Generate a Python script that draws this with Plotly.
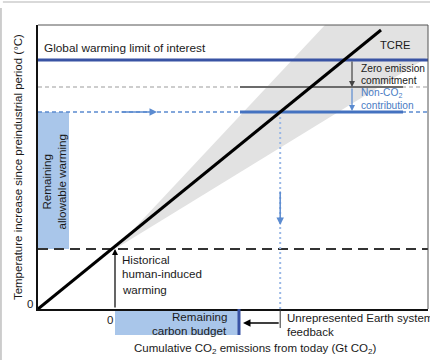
import plotly.graph_objects as go

# ---- schematic values (x: cumulative CO2 emissions from today, y: warming) ----
X_RANGE = [-770, 3130]
Y_RANGE = [0, 2.84]

tcre_emissions = [-770, 2660]      # central TCRE line, preindustrial -> end
tcre_warming = [0.0, 2.79]

hist_emissions = 0                  # today
hist_warming = 0.60                 # historical human-induced warming
warming_limit = 2.49                # global warming limit of interest
zec_level = 2.22                    # limit minus zero emission commitment
nonco2_level = 1.97                 # limit minus ZEC and non-CO2 contribution
budget_after_feedback = 1240        # remaining carbon budget after feedback

# TCRE uncertainty cone, starting from today's warming
cone_emissions = [0, 2100, 3130, 3130, 0]
cone_warming = [0.60, 2.84, 2.84, 2.52, 0.60]

# extent of the solid reference levels at the right
level_segment = [1250, 2880]
arrow_x_right = 2370

# emissions where the TCRE line reaches the remaining-warming level
slope = (tcre_warming[1] - tcre_warming[0]) / (tcre_emissions[1] - tcre_emissions[0])
budget_tcre = tcre_emissions[0] + (nonco2_level - tcre_warming[0]) / slope

FONT = "Liberation Sans, Arial, sans-serif"
DARK_BLUE = "#3953a4"
MID_BLUE = "#4472c0"
DASH_BLUE = "#5b8bd0"
LIGHT_BLUE = "#a9c6ea"
DOT_BLUE = "#9ab8e6"

fig = go.Figure()

# uncertainty cone
fig.add_trace(go.Scatter(x=cone_emissions, y=cone_warming, fill="toself",
                         fillcolor="#e2e2e2", line=dict(width=0), mode="lines",
                         hoverinfo="skip"))

# remaining allowable warming band
fig.add_trace(go.Scatter(x=[X_RANGE[0], -460, -460, X_RANGE[0], X_RANGE[0]],
                         y=[hist_warming, hist_warming, nonco2_level, nonco2_level, hist_warming],
                         fill="toself", fillcolor=LIGHT_BLUE, line=dict(width=0),
                         mode="lines", hoverinfo="skip"))

def hline(y, x0, x1, color, width, dash="solid"):
    fig.add_trace(go.Scatter(x=[x0, x1], y=[y, y], mode="lines",
                             line=dict(color=color, width=width, dash=dash),
                             hoverinfo="skip"))

# dashed reference levels across the whole plot
hline(zec_level, X_RANGE[0], X_RANGE[1], "#bdbdbd", 1.5, "4px,3px")
hline(nonco2_level, X_RANGE[0], X_RANGE[1], DASH_BLUE, 1.5, "4px,3px")
hline(hist_warming, X_RANGE[0], X_RANGE[1], "#333333", 2, "10px,6px")

# solid levels at the right
hline(zec_level, level_segment[0], level_segment[1], "#6b6b6b", 2)
hline(nonco2_level, level_segment[0], level_segment[1], MID_BLUE, 3)

# vertical dotted line from the TCRE crossing down to the axis
fig.add_trace(go.Scatter(x=[budget_tcre, budget_tcre], y=[0, nonco2_level], mode="lines",
                         line=dict(color=DOT_BLUE, width=2, dash="2px,3px"),
                         hoverinfo="skip"))

# global warming limit
hline(warming_limit, X_RANGE[0], X_RANGE[1], DARK_BLUE, 3)

# TCRE line
fig.add_trace(go.Scatter(x=tcre_emissions, y=tcre_warming, mode="lines",
                         line=dict(color="black", width=3), hoverinfo="skip"))

annotations = []

def arrow(x, y, ax, ay, color, width=1.2, xref="x", yref="y", ayref="y", size=1.0):
    annotations.append(dict(x=x, y=y, ax=ax, ay=ay, xref=xref, yref=yref,
                            axref="x", ayref=ayref, text="", showarrow=True,
                            arrowhead=2, arrowsize=size, arrowwidth=width,
                            arrowcolor=color, standoff=0, startstandoff=0))

arrow(hist_emissions, hist_warming, hist_emissions, 0, "black", 1.2)
arrow(420, nonco2_level, 50, nonco2_level, DASH_BLUE, 1.5)
arrow(budget_tcre, 0.84, budget_tcre, 1.19, DASH_BLUE, 1.5)
arrow(arrow_x_right, zec_level, arrow_x_right, warming_limit, "#444444", 1.2)
arrow(arrow_x_right, nonco2_level + 0.01, arrow_x_right, zec_level, DASH_BLUE, 1.2)
# unrepresented Earth system feedback arrow below the axis
annotations.append(dict(x=budget_after_feedback + 40, y=-0.049, ax=budget_tcre, ay=0,
                        xref="x", yref="paper", axref="x", ayref="pixel",
                        text="", showarrow=True, arrowhead=2, arrowsize=1,
                        arrowwidth=1.5, arrowcolor="black", standoff=0))

def label(text, x, y, size=11.5, color="#1a1a1a", xanchor="left", xref="x", yref="y",
          angle=0):
    annotations.append(dict(text=text, x=x, y=y, xref=xref, yref=yref,
                            xanchor=xanchor, yanchor="middle", showarrow=False,
                            textangle=angle,
                            font=dict(family=FONT, size=size, color=color)))

label("Global warming limit of interest", -730, 2.61, 11.8)
label("TCRE", 2630, 2.64, 11.2)
label("Zero emission", 2440, 2.41, 10.2)
label("commitment", 2440, 2.29, 10.2)
label("Non-CO<sub>2</sub>", 2440, 2.16, 10.2, "#4a7cc4")
label("contribution", 2440, 2.04, 10.2, "#4a7cc4")
label("Historical", 50, 0.50, 11.6)
label("human-induced", 50, 0.36, 11.6)
label("warming", 50, 0.20, 11.6)
label("Remaining<br>allowable warming", -615, 1.27, 11.6, angle=-90, xanchor="center")

# below the horizontal axis
label("Remaining", 1140, -0.028, 11.6, xanchor="right", yref="paper")
label("carbon budget", 1140, -0.074, 11.6, xanchor="right", yref="paper")
label("Unrepresented Earth system", 1700, -0.032, 11.5, yref="paper")
label("feedback", 1700, -0.081, 11.5, yref="paper")
label("0", -50, -0.039, 11.5, xanchor="center", yref="paper")
label("0", -0.02, 0.05, 11.5, xanchor="center", xref="paper")

# axis titles
label("Cumulative CO<sub>2</sub> emissions from today (Gt CO<sub>2</sub>)", 0.556, -0.141,
      11.5, xanchor="center", xref="paper", yref="paper")
label("Temperature increase since preindustrial period (°C)", -0.051, 0.5, 11.5,
      xanchor="center", xref="paper", yref="paper", angle=-90)

shapes = [
    # remaining carbon budget box below the axis
    dict(type="rect", xref="x", yref="paper", x0=hist_emissions, x1=budget_after_feedback,
         y0=-0.0915, y1=0, fillcolor=LIGHT_BLUE, line=dict(width=0), layer="below"),
    dict(type="line", xref="x", yref="paper", x0=budget_after_feedback,
         x1=budget_after_feedback, y0=-0.0915, y1=0, line=dict(color=DARK_BLUE, width=3)),
    dict(type="line", xref="x", yref="paper", x0=budget_tcre, x1=budget_tcre,
         y0=-0.067, y1=0, line=dict(color="#333333", width=1)),
    # top and right frame
    dict(type="line", xref="paper", yref="paper", x0=0, x1=1, y0=1, y1=1,
         line=dict(color="#555555", width=1)),
    dict(type="line", xref="paper", yref="paper", x0=1, x1=1, y0=0, y1=1,
         line=dict(color="#555555", width=1)),
    # outer panel border
    dict(type="line", xref="paper", yref="paper", x0=-0.09, x1=1.01, y0=1.081, y1=1.081,
         line=dict(color="#cccccc", width=1.5)),
    dict(type="rect", xref="paper", yref="paper", x0=-0.0975, x1=-0.0925, y0=-0.19, y1=1.06,
         fillcolor="#cccccc", line=dict(width=0)),
]

fig.update_layout(
    width=430, height=360,
    margin=dict(l=38, r=2, t=25, b=51),
    paper_bgcolor="white", plot_bgcolor="white",
    showlegend=False,
    annotations=annotations,
    shapes=shapes,
    xaxis=dict(range=X_RANGE, showgrid=False, zeroline=False, showticklabels=False,
               ticks="", showline=True, linecolor="#111111", linewidth=1.5, fixedrange=True),
    yaxis=dict(range=Y_RANGE, showgrid=False, zeroline=False, showticklabels=False,
               ticks="", showline=True, linecolor="#111111", linewidth=1.5, fixedrange=True),
)

fig.write_html("out.html")
